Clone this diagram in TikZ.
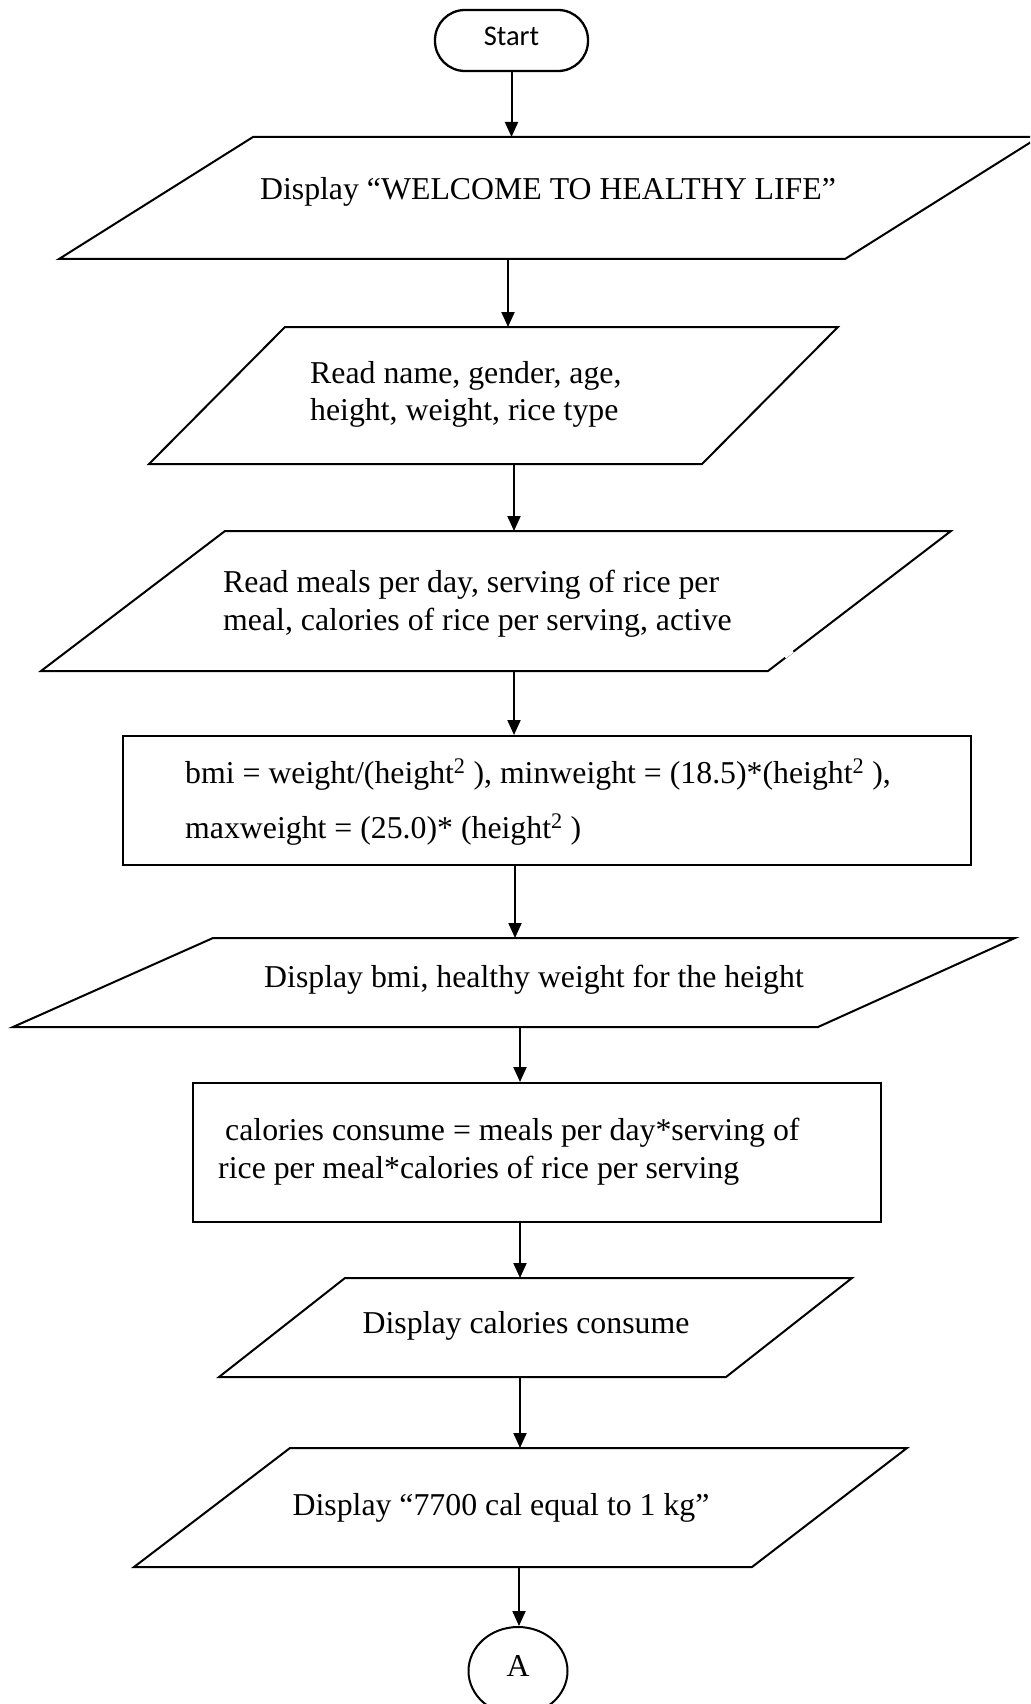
\documentclass[tikz,border=0pt]{standalone}
\usepackage{fontspec}
\setmainfont{Liberation Serif}
\newfontfamily\startfont{Carlito}
\usetikzlibrary{arrows.meta,shapes.geometric}
\begin{document}
\begin{tikzpicture}[x=1pt,y=-1pt,
  outline/.style={draw=black, line width=2pt, line join=miter},
  flow/.style={draw=black, line width=2pt, -{Triangle[length=15pt,width=13pt]}},
  txt/.style={inner sep=0pt, font=\fontsize{31.8}{38}\selectfont},
  terminal/.style={outline, line width=2.3pt, rounded corners=30pt, minimum width=153pt,
    minimum height=61pt, inner sep=0pt, text depth=9pt,
    font=\startfont\fontsize{28.5}{34}\selectfont},
  procbox/.style={outline, inner sep=0pt},
  connector/.style={outline, ellipse, inner sep=0pt, minimum width=99pt,
    minimum height=88pt, text depth=10pt, font=\fontsize{31.8}{38}\selectfont}]
\path[use as bounding box] (0,0) rectangle (1030,1704);
\clip (0,0) rectangle (1030,1704);

% start terminal
\node[terminal] (start) at (511.5,40.5) {Start};

% welcome message
\draw[outline] (59,259) -- (253,137) -- (1039,137) -- (845,259) -- cycle;
\coordinate (p1n) at (511.5,137);
\coordinate (p1s) at (508,259);
\node[txt, anchor=base] (p1t) at (548,200) {Display “WELCOME TO HEALTHY LIFE”};

% personal data input
\draw[outline] (149,464) -- (285,327) -- (838,327) -- (702,464) -- cycle;
\coordinate (p2n) at (508,327);
\coordinate (p2s) at (514,464);
\node[txt, anchor=base west] (p2t) at (310,383)
  {\begin{tabular}[t]{@{}l@{}}Read name, gender, age,\\[-1pt]height, weight, rice type\end{tabular}};

% meal data input
\draw[outline] (41,671) -- (225,531) -- (951,531) -- (768,671) -- cycle;
\draw[white, line width=3.5pt] (792.8,651) -- (784.9,657);
\coordinate (p3n) at (514,531);
\coordinate (p3s) at (514,671);
\node[txt, anchor=base west] (p3t) at (223,592)
  {\begin{tabular}[t]{@{}l@{}}Read meals per day, serving of rice per\\meal, calories of rice per serving, active\end{tabular}};

% bmi computation
\node[procbox, minimum width=848pt, minimum height=129pt] (r1) at (547,800.5) {};
\node[txt, anchor=base west] (r1t) at (185,783)
  {\begin{tabular}[t]{@{}l@{}}bmi = weight/(height\textsuperscript{2} ), minweight = (18.5)*(height\textsuperscript{2} ),\\[17pt]maxweight = (25.0)* (height\textsuperscript{2} )\end{tabular}};

% bmi output
\draw[outline] (13,1027) -- (213,938) -- (1015,938) -- (818,1027) -- cycle;
\coordinate (p4n) at (515,938);
\coordinate (p4s) at (520,1027);
\node[txt, anchor=base] (p4t) at (534,987) {Display bmi, healthy weight for the height};

% calories computation
\node[procbox, minimum width=688pt, minimum height=139pt] (r2) at (537,1152.5) {};
\node[txt, anchor=base west] (r2t) at (218,1140)
  {\begin{tabular}[t]{@{}l@{}}\hspace*{7pt}calories consume = meals per day*serving of\\rice per meal*calories of rice per serving\end{tabular}};

% calories output
\draw[outline] (219,1377) -- (345,1278) -- (852,1278) -- (726,1377) -- cycle;
\coordinate (p5n) at (520,1278);
\coordinate (p5s) at (520,1377);
\node[txt, anchor=base] (p5t) at (526,1333) {Display calories consume};

% conversion message
\draw[outline] (134,1567) -- (290,1448) -- (907,1448) -- (752,1567) -- cycle;
\coordinate (p6n) at (520,1448);
\coordinate (p6s) at (519,1567);
\node[txt, anchor=base] (p6t) at (501,1515) {Display “7700 cal equal to 1 kg”};

% off-page connector
\node[connector] (conA) at (518,1671) {A};

% flow lines
\draw[flow] (start.south) -- (p1n);
\draw[flow] (p1s) -- (p2n);
\draw[flow] (p2s) -- (p3n);
\draw[flow] (p3s) -- (p3s |- r1.north);
\draw[flow] (r1.south -| p4n) -- (p4n);
\draw[flow] (p4s) -- (p4s |- r2.north);
\draw[flow] (r2.south -| p5n) -- (p5n);
\draw[flow] (p5s) -- (p6n);
\draw[flow] (p6s) -- (p6s |- conA.north);
\end{tikzpicture}
\end{document}
